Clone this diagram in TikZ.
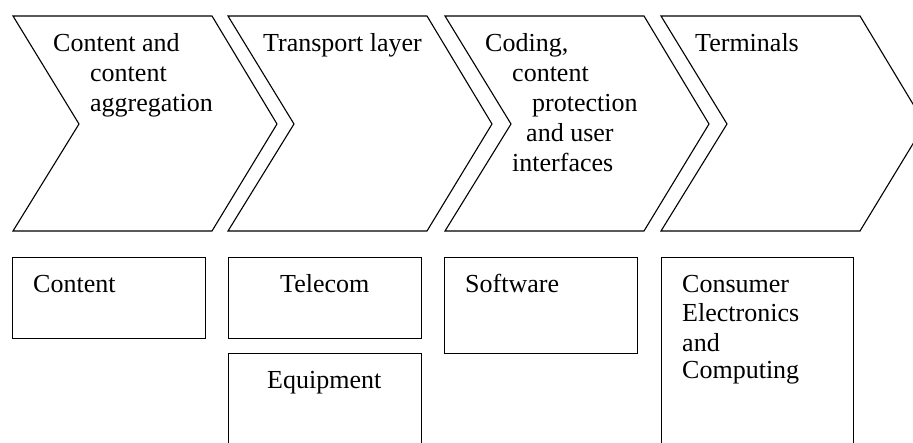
\documentclass[tikz,border=0pt]{standalone}
\usepackage{fontspec}
\setmainfont{Liberation Serif}
\usetikzlibrary{positioning}
\newcommand{\drawChevron}[2]
{
	\draw[chev] (#2,16) coordinate (#1) -- ++(199,0) -- ++(65,108) -- ++(-65,107)
		-- ++(-199,0) -- ++(66,-107) -- cycle;
}

\begin{document}
\begin{tikzpicture}[x=1pt,y=-1pt,
	chev/.style={draw,line width=1.1pt,line join=miter},
	blk/.style={draw,line width=1.1pt,anchor=north west,inner sep=0pt},
	every node/.style={font=\fontsize{26}{30}\selectfont},
	lbl/.style={anchor=base west,inner sep=0pt}]
\useasboundingbox (0,0) rectangle (913,443);
\clip (0,0) rectangle (913,443);

% chevrons
\drawChevron{contentchev}{13}
\drawChevron{transportchev}{228}
\drawChevron{codingchev}{445}
\drawChevron{terminalchev}{661}

\node[lbl] (c1a) at (53,52)  {Content and};
\node[lbl] (c1b) at (90,82)  {content};
\node[lbl] (c1c) at (90,112) {aggregation};

\node[lbl] (c2a) at (263,52) {Transport layer};

\node[lbl] (c3a) at (485,52)  {Coding,};
\node[lbl] (c3b) at (512,82)  {content};
\node[lbl] (c3c) at (532,112) {protection};
\node[lbl] (c3d) at (526,142) {and user};
\node[lbl] (c3e) at (512,172) {interfaces};

\node[lbl] (c4a) at (695,52) {Terminals};

% boxes
\node[blk,minimum width=193pt,minimum height=81pt]  (contentbox)  at (12,257)  {};
\node[blk,minimum width=193pt,minimum height=81pt]  (telecombox)  at (228,257) {};
\node[blk,minimum width=193pt,minimum height=120pt] (equipbox)    at (228,353) {};
\node[blk,minimum width=193pt,minimum height=96pt]  (softbox)     at (444,257) {};
\node[blk,minimum width=192pt,minimum height=220pt] (consumerbox) at (661,257) {};

\node[lbl] (b1)  at (33,293)  {Content};
\node[lbl] (b2)  at (280,293) {Telecom};
\node[lbl] (b3)  at (267,389) {Equipment};
\node[lbl] (b4)  at (465,293) {Software};
\node[lbl] (b5a) at (682,293) {Consumer};
\node[lbl] (b5b) at (682,322) {Electronics};
\node[lbl] (b5c) at (682,352) {and};
\node[lbl] (b5d) at (682,379) {Computing};
\end{tikzpicture}
\end{document}
